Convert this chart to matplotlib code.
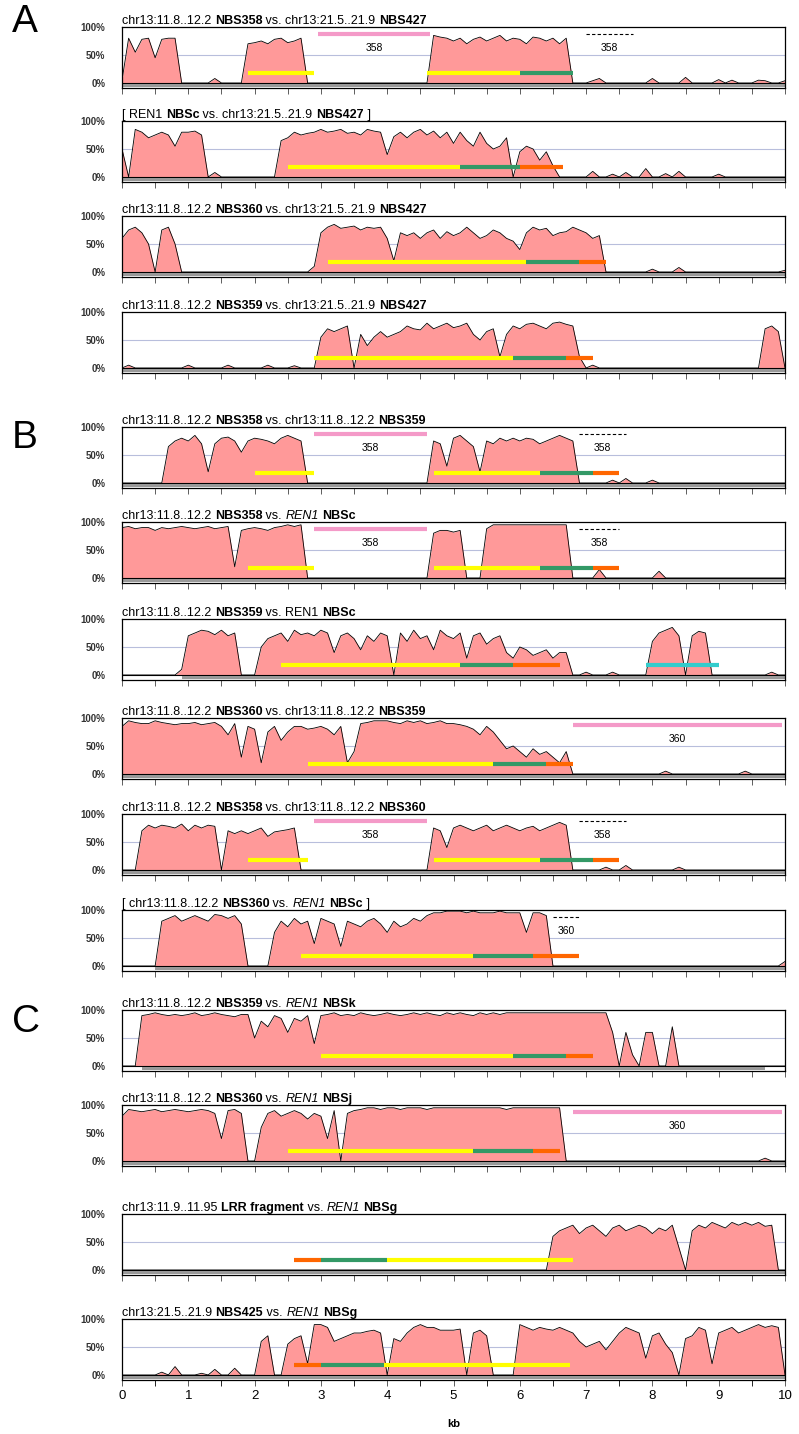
import numpy as np
import matplotlib
matplotlib.use('Agg')
import matplotlib.pyplot as plt
from matplotlib.offsetbox import TextArea, HPacker, AnnotationBbox

plt.rcParams['font.family'] = ['Liberation Sans', 'DejaVu Sans']

# positions along the sequence (kb), one value every 0.1 kb
kb = np.round(np.arange(0, 10.01, 0.1), 1)

# percent identity profiles
prof_a1 = [5,80,55,78,80,45,78,80,80,0, 0,0,0,0,8,0,0,0,0,70, 72,75,70,78,80,72,75,80,0,0,
           0,0,0,0,0,0,0,0,0,0, 0,0,0,0,0,0,0,85,82,80, 75,80,70,78,82,75,80,85,75,80,
           78,70,82,80,75,80,70,80,0,0, 0,4,8,0,0,0,0,0,0,0, 8,0,0,0,0,10,0,0,0,0,
           6,0,5,0,0,0,5,4,0,0, 4]
prof_a2 = [50,0,85,80,70,75,80,75,55,80, 80,82,75,0,8,0,0,0,0,0, 0,0,0,0,65,70,80,75,78,80,
           85,80,82,85,78,80,75,85,82,80, 40,72,80,70,80,85,75,82,70,80, 60,80,65,55,80,60,50,55,70,0,
           45,55,50,30,45,20,0,0,0,0, 0,10,0,0,5,0,8,0,0,15, 0,0,6,0,10,0,0,0,0,0,
           5,0,0,0,0,0,0,0,0,0, 0]
prof_a3 = [60,75,80,70,50,0,75,80,50,0, 0,0,0,0,0,0,0,0,0,0, 0,0,0,0,0,0,0,0,0,10,
           70,80,85,78,80,82,75,80,78,80, 60,20,70,65,70,60,70,75,60,72, 65,70,80,70,60,65,75,70,60,55,
           40,70,80,75,78,65,70,72,80,75, 70,60,65,0,0,0,0,0,0,0, 5,0,0,0,8,0,0,0,0,0,
           0,0,0,0,0,0,0,0,0,0, 3]
prof_a4 = [0,5,0,0,0,0,0,0,0,0, 5,0,0,0,0,0,5,0,0,0, 0,0,5,0,0,0,4,0,0,0,
           55,70,65,70,75,0,60,40,55,65, 55,60,65,75,70,68,80,70,75,80, 72,75,80,60,50,65,70,20,60,75,
           70,78,80,75,70,80,82,78,75,20, 0,5,0,0,0,0,0,0,0,0, 0,0,0,0,0,0,0,0,0,0,
           0,0,0,0,0,0,0,70,75,65, 0]
prof_b1 = [0,0,0,0,0,0,0,65,75,80, 75,85,70,20,70,80,82,75,55,75, 80,78,75,70,80,85,80,75,0,0,
           0,0,0,0,0,0,0,0,0,0, 0,0,0,0,0,0,0,75,70,30, 80,85,75,65,20,75,70,80,75,80,
           75,80,78,70,75,80,85,80,75,0, 0,0,0,0,5,0,8,0,0,0, 5,0,0,0,0,0,0,0,0,0,
           0,0,0,0,0,0,0,0,0,0, 0]
prof_b2 = [90,92,88,90,90,85,90,88,90,92, 90,88,90,92,88,90,92,20,85,88, 90,88,85,90,92,95,92,95,0,0,
           0,0,0,0,0,0,0,0,0,0, 0,0,0,0,0,0,0,80,85,85, 82,85,0,0,0,88,95,95,95,95,
           95,95,95,95,95,95,95,95,0,0, 0,0,15,0,0,0,0,0,0,0, 0,12,0,0,0,0,0,0,0,0,
           0,0,0,0,0,0,0,0,0,0, 0]
prof_b3 = [0,0,0,0,0,0,0,0,0,10, 70,75,80,78,72,80,70,75,0,0, 0,50,65,70,75,60,80,72,75,70,
           80,75,40,70,75,65,45,70,60,75, 70,0,75,60,80,65,70,45,80,70, 65,75,30,70,75,55,65,70,40,30,
           50,45,35,40,45,30,40,40,0,0, 5,0,0,0,5,0,0,0,0,0, 60,75,80,85,70,0,70,78,75,0,
           0,0,0,0,0,0,0,0,5,0, 0]
prof_b4 = [85,95,92,90,90,95,92,90,88,90, 90,92,88,90,92,85,70,90,30,85, 80,20,75,85,60,75,85,85,80,82,
           85,80,70,85,20,40,90,92,95,95, 95,92,90,95,92,95,90,92,95,90, 90,88,85,80,70,85,75,60,45,50,
           40,30,45,35,40,30,20,40,0,0, 0,0,0,0,0,0,0,0,0,0, 0,0,5,0,0,0,0,0,0,0,
           0,0,0,0,5,0,0,0,0,0, 0]
prof_b5 = [0,0,0,70,80,75,80,78,75,82, 70,80,75,80,78,0,70,65,70,65, 70,75,60,68,70,72,75,0,0,0,
           0,0,0,0,0,0,0,0,0,0, 0,0,0,0,0,0,0,75,70,40, 75,80,75,70,75,80,70,75,80,75,
           70,75,78,70,75,80,85,80,0,0, 0,0,0,5,0,0,8,0,0,0, 0,0,0,0,5,0,0,0,0,0,
           0,0,0,0,0,0,0,0,0,0, 0]
prof_b6 = [0,0,0,0,0,0,80,85,90,80, 85,90,85,80,92,90,85,90,75,0, 0,0,0,60,80,70,85,75,80,40,
           85,80,75,35,80,75,70,80,85,75, 60,80,70,75,85,80,90,95,95,98, 98,98,95,98,95,95,95,98,95,95,
           95,60,95,95,90,0,0,0,0,0, 0,0,0,0,0,0,0,0,0,0, 0,0,0,0,0,0,0,0,0,0,
           0,0,0,0,0,0,0,0,0,0, 8]
prof_c1 = [0,0,0,90,92,95,92,90,92,90, 92,95,90,92,95,92,90,88,92,92, 50,80,70,90,85,60,85,80,90,40,
           90,92,95,90,92,90,95,92,90,92, 95,92,90,92,95,92,95,92,90,95, 92,95,92,90,95,92,95,92,95,95,
           95,95,95,95,95,95,95,95,95,95, 95,95,95,95,60,0,60,20,0,60, 60,0,0,70,0,0,0,0,0,0,
           0,0,0,0,0,0,0,0,0,0, 0]
prof_c2 = [80,92,90,88,90,92,88,90,92,90, 88,90,92,90,85,40,90,92,85,0, 0,60,85,90,80,85,90,85,75,85,
           80,40,90,0,85,90,92,95,95,92, 95,95,92,95,95,95,92,95,95,95, 95,95,95,95,95,95,95,95,92,95,
           95,95,95,95,95,95,95,0,0,0, 0,0,0,0,0,0,0,0,0,0, 0,0,0,0,0,0,0,0,0,0,
           0,0,0,0,0,0,0,5,0,0, 0]
prof_c3 = [0]*60 + [0,0,0,0,0,60,70,75,80,65, 75,80,70,60,75,80,70,75,80,75,
                    65,75,70,80,40,0,70,80,75,85, 80,75,85,80,85,80,85,78,80,0, 0]
prof_c4 = [0,0,0,0,0,0,5,0,15,0, 0,0,3,0,10,0,0,12,0,0, 0,60,70,0,0,55,65,70,20,90,
           90,85,60,65,70,75,75,78,80,75, 0,65,60,75,85,90,85,85,80,80, 80,82,0,75,80,70,0,0,0,0,
           90,85,80,85,82,80,85,80,75,60, 50,55,60,45,60,75,85,80,75,30, 70,75,55,40,0,65,70,85,80,20,
           75,80,85,75,80,85,90,85,88,85, 0]

# panel titles: (text, style) pieces
N, B, I = 'n', 'b', 'i'
titles = [
    [("chr13:11.8..12.2 ", N), ("NBS358", B), (" vs. chr13:21.5..21.9 ", N), ("NBS427", B)],
    [("[ REN1 ", N), ("NBSc", B), (" vs. chr13:21.5..21.9 ", N), ("NBS427", B), (" ]", N)],
    [("chr13:11.8..12.2 ", N), ("NBS360", B), (" vs. chr13:21.5..21.9 ", N), ("NBS427", B)],
    [("chr13:11.8..12.2 ", N), ("NBS359", B), (" vs. chr13:21.5..21.9 ", N), ("NBS427", B)],
    [("chr13:11.8..12.2 ", N), ("NBS358", B), (" vs. chr13:11.8..12.2 ", N), ("NBS359", B)],
    [("chr13:11.8..12.2 ", N), ("NBS358", B), (" vs. ", N), ("REN1", I), (" ", N), ("NBSc", B)],
    [("chr13:11.8..12.2 ", N), ("NBS359", B), (" vs. REN1 ", N), ("NBSc", B)],
    [("chr13:11.8..12.2 ", N), ("NBS360", B), (" vs. chr13:11.8..12.2 ", N), ("NBS359", B)],
    [("chr13:11.8..12.2 ", N), ("NBS358", B), (" vs. chr13:11.8..12.2 ", N), ("NBS360", B)],
    [("[ chr13:11.8..12.2 ", N), ("NBS360", B), (" vs. ", N), ("REN1", I), (" ", N), ("NBSc", B), (" ]", N)],
    [("chr13:11.8..12.2 ", N), ("NBS359", B), (" vs. ", N), ("REN1", I), (" ", N), ("NBSk", B)],
    [("chr13:11.8..12.2 ", N), ("NBS360", B), (" vs. ", N), ("REN1", I), (" ", N), ("NBSj", B)],
    [("chr13:11.9..11.95 ", N), ("LRR fragment", B), (" vs. ", N), ("REN1", I), (" ", N), ("NBSg", B)],
    [("chr13:21.5..21.9 ", N), ("NBS425", B), (" vs. ", N), ("REN1", I), (" ", N), ("NBSg", B)],
]
profiles = [prof_a1, prof_a2, prof_a3, prof_a4, prof_b1, prof_b2, prof_b3,
            prof_b4, prof_b5, prof_b6, prof_c1, prof_c2, prof_c3, prof_c4]

# annotation bars (start kb, end kb, colour key)
bars = [
    [(1.9, 2.9, 'y'), (4.6, 6.0, 'y'), (6.0, 6.8, 'g')],
    [(2.5, 5.1, 'y'), (5.1, 6.0, 'g'), (6.0, 6.65, 'o')],
    [(3.1, 6.1, 'y'), (6.1, 6.9, 'g'), (6.9, 7.3, 'o')],
    [(2.9, 5.9, 'y'), (5.9, 6.7, 'g'), (6.7, 7.1, 'o')],
    [(2.0, 2.9, 'y'), (4.7, 6.3, 'y'), (6.3, 7.1, 'g'), (7.1, 7.5, 'o')],
    [(1.9, 2.9, 'y'), (4.7, 6.3, 'y'), (6.3, 7.1, 'g'), (7.1, 7.5, 'o')],
    [(2.4, 5.1, 'y'), (5.1, 5.9, 'g'), (5.9, 6.6, 'o'), (7.9, 9.0, 'c')],
    [(2.8, 5.6, 'y'), (5.6, 6.4, 'g'), (6.4, 6.8, 'o')],
    [(1.9, 2.8, 'y'), (4.7, 6.3, 'y'), (6.3, 7.1, 'g'), (7.1, 7.5, 'o')],
    [(2.7, 5.3, 'y'), (5.3, 6.2, 'g'), (6.2, 6.9, 'o')],
    [(3.0, 5.9, 'y'), (5.9, 6.7, 'g'), (6.7, 7.1, 'o')],
    [(2.5, 5.3, 'y'), (5.3, 6.2, 'g'), (6.2, 6.6, 'o')],
    [(2.6, 3.0, 'o'), (3.0, 4.0, 'g'), (4.0, 6.8, 'y')],
    [(2.6, 3.0, 'o'), (3.0, 3.95, 'g'), (3.95, 6.75, 'y')],
]
# pink duplicated-region bars and dashed marks: (start, end, label)
pink = {0: (2.95, 4.65, '358'), 4: (2.9, 4.6, '358'), 5: (2.9, 4.6, '358'),
        7: (6.8, 9.95, '360'), 8: (2.9, 4.6, '358'), 11: (6.8, 9.95, '360')}
dashed = {0: (7.0, 7.7, '358'), 4: (6.9, 7.6, '358'), 5: (6.9, 7.5, '358'),
          8: (6.9, 7.6, '358'), 9: (6.5, 6.9, '360')}
grey_start = {6: 0.9, 9: 0.5, 10: 0.3}
grey_end = {10: 9.7}

colors = {'y': '#ffff00', 'g': '#339966', 'o': '#ff6600', 'c': '#33cccc'}
tops = [27, 121, 216, 312, 427, 522, 619, 718, 814, 910, 1010, 1105, 1214, 1319]
H = 61
W, Hf = 799, 1434

fig = plt.figure(figsize=(W / 100, Hf / 100), dpi=100)
for i, prof in enumerate(profiles):
    ax = fig.add_axes([122 / W, 1 - (tops[i] + H) / Hf, 663 / W, H / Hf])
    ax.set_xlim(0, 10)
    ax.set_ylim(-9, 100)
    ax.axhline(50, color='#b8bedc', lw=0.8, zorder=0)
    ax.fill_between(kb, 0, prof, color='#ff9999', lw=0, zorder=1)
    ax.plot(kb, prof, color='black', lw=0.6, zorder=2)
    ax.axhline(0, color='black', lw=0.8, zorder=2)
    g0 = grey_start.get(i, 0)
    g1 = grey_end.get(i, 10)
    ax.fill_between([g0, g1], -7, -2, color='#999999', lw=0, zorder=2)
    for s, e, c in bars[i]:
        ax.plot([s, e], [18, 18], color=colors[c], lw=3, solid_capstyle='butt', zorder=3)
    if i in pink:
        s, e, lab = pink[i]
        ax.plot([s, e], [88, 88], color='#f49ac8', lw=3, solid_capstyle='butt', zorder=3)
        ax.text((s + e) / 2, 62, lab, ha='center', va='center', fontsize=7.5)
    if i in dashed:
        s, e, lab = dashed[i]
        ax.plot([s, e], [88, 88], color='black', lw=0.8, ls=(0, (3, 2)), zorder=3)
        ax.text((s + e) / 2, 62, lab, ha='center', va='center', fontsize=7.5)
    ax.set_yticks([0, 50, 100])
    ax.set_yticklabels(['0%', '50%', '100%'], fontsize=7, fontweight='bold', color='#333333')
    ax.tick_params(axis='y', length=0, pad=12)
    ax.set_xticks(np.arange(0, 10.01, 0.5))
    ax.tick_params(axis='x', direction='out', length=4, width=0.6, color='#444444')
    if i == len(profiles) - 1:
        ax.set_xticks(np.arange(0, 11, 1))
        ax.set_xticks(np.arange(0, 10.01, 0.5), minor=True)
        ax.tick_params(axis='x', which='minor', length=4, width=0.6)
        ax.set_xticklabels([str(v) for v in range(11)], fontsize=9.5)
        ax.set_xlabel('kb', fontsize=8, fontweight='bold', labelpad=12)
    else:
        ax.set_xticklabels([])
    for sp in ax.spines.values():
        sp.set_linewidth(0.9)

    parts = []
    for txt, st in titles[i]:
        props = dict(fontsize=9, color='black')
        if st == B:
            props['fontweight'] = 'bold'
        if st == I:
            props['fontstyle'] = 'italic'
        parts.append(TextArea(txt, textprops=props))
    box = HPacker(children=parts, pad=0, sep=0, align='baseline')
    ab = AnnotationBbox(box, (0.0, 1.0), xycoords='axes fraction', box_alignment=(0, 0),
                        frameon=False, pad=0.3)
    ax.add_artist(ab)

for lab, y in [('A', 22), ('B', 438), ('C', 1022)]:
    fig.text(12 / W, 1 - y / Hf, lab, fontsize=28, va='center', ha='left')

fig.savefig('out.png', dpi=100)
